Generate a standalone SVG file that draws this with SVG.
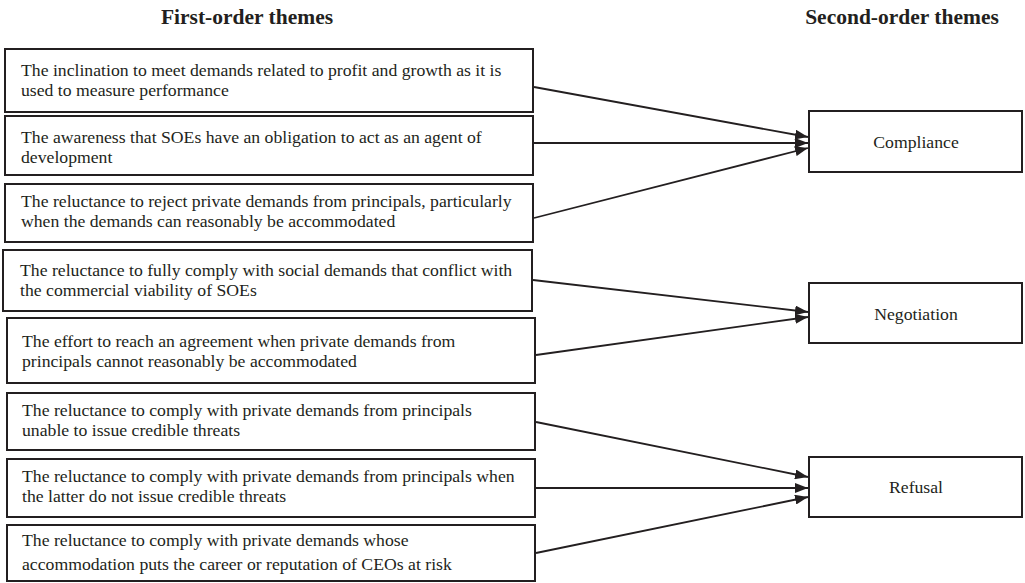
<svg xmlns="http://www.w3.org/2000/svg" width="1025" height="583" viewBox="0 0 1025 583">
<style>
.bg{fill:#ffffff}
.box{fill:#ffffff;stroke:#231f20;stroke-width:2}
.t{font-family:"Liberation Serif","Times New Roman",serif;font-size:17.7px;fill:#231f20}
.c{text-anchor:middle}
.h{font-family:"Liberation Serif","Times New Roman",serif;font-size:21.5px;font-weight:bold;fill:#231f20;text-anchor:middle}
.ln{stroke:#231f20;stroke-width:1.8;fill:none;marker-end:url(#ah)}
</style>
<defs>
<marker id="ah" markerUnits="userSpaceOnUse" markerWidth="13" markerHeight="10" refX="13" refY="5" orient="auto">
<path d="M0,0 L13,5 L0,10 z" fill="#231f20"/>
</marker>
</defs>
<rect class="bg" x="0" y="0" width="1025" height="583"/>
<g id="headers">
<text class="h" x="247" y="24">First-order themes</text>
<text class="h" x="902" y="24">Second-order themes</text>
</g>
<g id="n1"><rect class="box" x="5" y="49" width="528" height="63"/>
<text class="t" x="21" y="76">The inclination to meet demands related to profit and growth as it is</text>
<text class="t" x="21" y="96">used to measure performance</text></g>
<g id="n2"><rect class="box" x="5" y="116" width="528" height="59"/>
<text class="t" x="21" y="143">The awareness that SOEs have an obligation to act as an agent of</text>
<text class="t" x="21" y="163">development</text></g>
<g id="n3"><rect class="box" x="5" y="184" width="528" height="58"/>
<text class="t" x="21" y="207">The reluctance to reject private demands from principals, particularly</text>
<text class="t" x="21" y="227">when the demands can reasonably be accommodated</text></g>
<g id="n4"><rect class="box" x="3" y="250" width="529" height="61"/>
<text class="t" x="20" y="276">The reluctance to fully comply with social demands that conflict with</text>
<text class="t" x="20" y="296">the commercial viability of SOEs</text></g>
<g id="n5"><rect class="box" x="7" y="318" width="528" height="65"/>
<text class="t" x="22" y="347">The effort to reach an agreement when private demands from</text>
<text class="t" x="22" y="367">principals cannot reasonably be accommodated</text></g>
<g id="n6"><rect class="box" x="7" y="393" width="528" height="57"/>
<text class="t" x="22" y="416">The reluctance to comply with private demands from principals</text>
<text class="t" x="22" y="436">unable to issue credible threats</text></g>
<g id="n7"><rect class="box" x="7" y="459" width="528" height="58"/>
<text class="t" x="22" y="482">The reluctance to comply with private demands from principals when</text>
<text class="t" x="22" y="502">the latter do not issue credible threats</text></g>
<g id="n8"><rect class="box" x="7" y="525" width="528" height="56"/>
<text class="t" x="22" y="546">The reluctance to comply with private demands whose</text>
<text class="t" x="22" y="570">accommodation puts the career or reputation of CEOs at risk</text></g>
<g id="compliance"><rect class="box" x="809" y="111" width="213" height="61"/>
<text class="t c" x="916" y="148">Compliance</text></g>
<g id="negotiation"><rect class="box" x="809" y="283" width="213" height="60"/>
<text class="t c" x="916" y="320">Negotiation</text></g>
<g id="refusal"><rect class="box" x="809" y="457" width="213" height="60"/>
<text class="t c" x="916" y="493">Refusal</text></g>
<g id="connectors">
<line class="ln" x1="534" y1="87" x2="808" y2="137"/>
<line class="ln" x1="534" y1="143" x2="808" y2="143"/>
<line class="ln" x1="534" y1="218" x2="808" y2="148"/>
<line class="ln" x1="533" y1="280" x2="808" y2="312"/>
<line class="ln" x1="536" y1="355" x2="808" y2="317"/>
<line class="ln" x1="536" y1="422" x2="808" y2="477"/>
<line class="ln" x1="536" y1="488" x2="808" y2="488"/>
<line class="ln" x1="536" y1="553" x2="808" y2="497"/>
</g>
</svg>
